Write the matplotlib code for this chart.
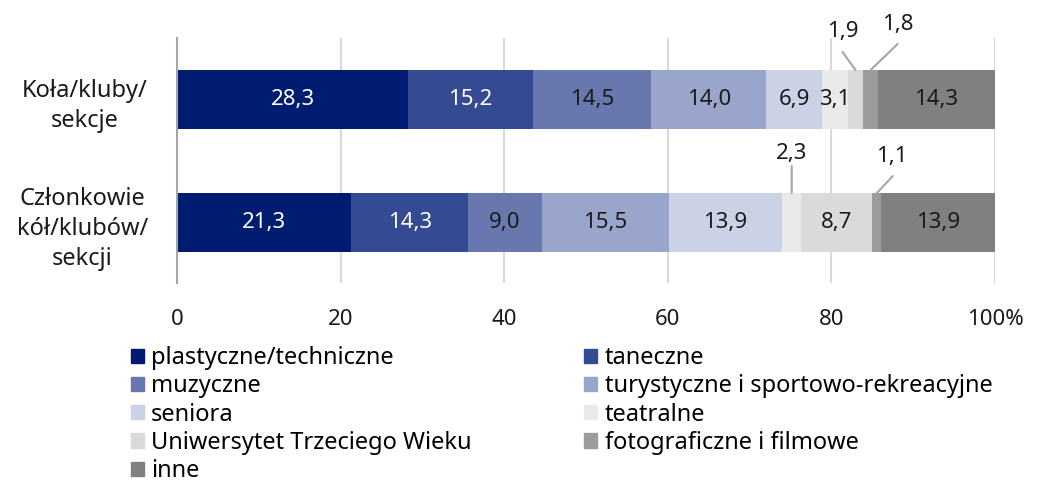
import matplotlib
matplotlib.use("Agg")
import matplotlib.pyplot as plt
from matplotlib.patches import Patch

plt.rcParams['font.family'] = ['Noto Sans', 'DejaVu Sans']

categories = ['Koła/kluby/\nsekcje', 'Członkowie\nkół/klubów/\nsekcji']
series = ['plastyczne/techniczne', 'taneczne', 'muzyczne',
          'turystyczne i sportowo-rekreacyjne', 'seniora', 'teatralne',
          'Uniwersytet Trzeciego Wieku', 'fotograficzne i filmowe', 'inne']
kola = [28.3, 15.2, 14.5, 14.0, 6.9, 3.1, 1.9, 1.8, 14.3]
czlonkowie = [21.3, 14.3, 9.0, 15.5, 13.9, 2.3, 8.7, 1.1, 13.9]
colors = ['#001C71', '#344A92', '#6878AE', '#99A5CB', '#CCD2E5',
          '#E9EBEA', '#D9DBDA', '#9A9C9B', '#808080']
text_colors = ['white', 'white'] + ['#1a1a1a'] * 7

# small segments labelled above the bar with a leader line:
# (row, series index, line end offset px, text offset px)
callouts = [
    (0, 6, (-13, 18), (-13, 38)),
    (0, 7, (27, 26), (27, 45)),
    (1, 5, (0, 27), (0, 40)),
    (1, 7, (16, 17), (15, 37)),
]

fig = plt.figure(figsize=(10.4, 4.82), dpi=100)
ax = fig.add_axes([0.1702, 0.4129, 0.7865, 0.5083])

rows = [kola, czlonkowie]
bar_h = 0.48
for r, vals in enumerate(rows):
    left = 0
    for i, v in enumerate(vals):
        ax.barh(r, v, left=left, height=bar_h, color=colors[i], zorder=3)
        cx = left + v / 2
        if not any(c[0] == r and c[1] == i for c in callouts):
            ax.text(cx, r, f'{v:.1f}'.replace('.', ','), ha='center', va='center',
                    fontsize=16, color=text_colors[i], zorder=4)
        left += v

for r, i, line_off, txt_off in callouts:
    vals = rows[r]
    cx = sum(vals[:i]) + vals[i] / 2
    top = r - bar_h / 2
    ax.annotate('', xy=(cx, top), xytext=line_off, textcoords='offset pixels',
                arrowprops=dict(arrowstyle='-', color='#A6A6A6', lw=1.5,
                                shrinkA=0, shrinkB=0), annotation_clip=False)
    ax.annotate(f'{vals[i]:.1f}'.replace('.', ','), xy=(cx, top), xytext=txt_off,
                textcoords='offset pixels', ha='center', va='center',
                fontsize=16, color='#1a1a1a', annotation_clip=False)

ax.set_xlim(0, 100)
ax.set_ylim(1.49, -0.5)
ax.set_xticks([0, 20, 40, 60, 80, 100])
ax.set_xticklabels(['0', '20', '40', '60', '80', '100%'])
ax.set_yticks([0, 1])
ax.set_yticklabels(categories, multialignment='center', linespacing=1.35)
ax.tick_params(axis='x', length=0, pad=19, labelsize=16, labelcolor='#1a1a1a')
ax.tick_params(axis='y', length=0, pad=21, labelsize=17, labelcolor='#1a1a1a')
ax.grid(axis='x', color='#D9D9D9', lw=1.5, zorder=0)
for s in ['top', 'right', 'bottom']:
    ax.spines[s].set_visible(False)
ax.spines['left'].set_color('#A6A6A6')
ax.spines['left'].set_linewidth(1.5)
ax.spines['left'].set_zorder(5)

handles = [Patch(color=c) for c in colors]
left_idx = [0, 2, 4, 6, 8]
right_idx = [1, 3, 5, 7]
for idx, x0 in [(left_idx, 0.126), (right_idx, 0.562)]:
    fig.legend([handles[k] for k in idx], [series[k] for k in idx],
               loc='upper left', bbox_to_anchor=(x0, 0.282), frameon=False,
               fontsize=17, handlelength=0.55, handleheight=0.55, handletextpad=0.3,
               labelspacing=0.18, borderaxespad=0, borderpad=0)

fig.savefig('out.png', dpi=100)
